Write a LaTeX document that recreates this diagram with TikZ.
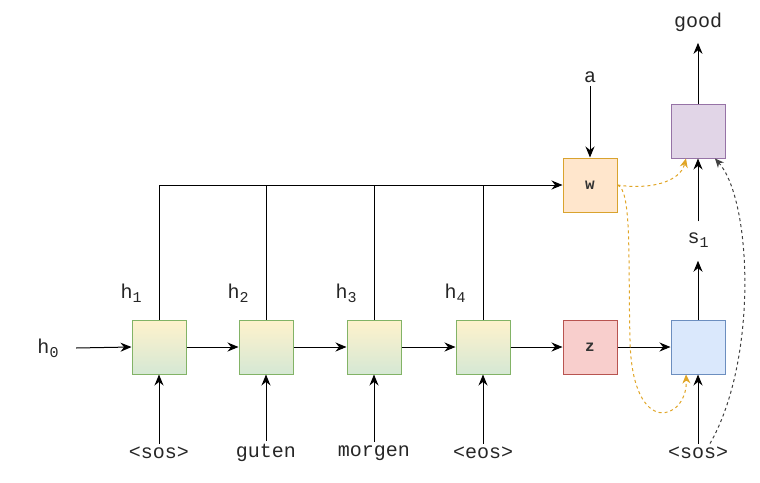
\documentclass[tikz,border=0pt]{standalone}
\usepackage{fontspec}
\setmonofont{Liberation Mono}
\usetikzlibrary{arrows.meta}
\definecolor{encline}{HTML}{82B366}
\definecolor{encyellow}{HTML}{FFF2CC}
\definecolor{encgreen}{HTML}{D5E8D4}
\definecolor{wfill}{HTML}{FFE6CC}
\definecolor{wline}{HTML}{D9A32E}
\definecolor{zfill}{HTML}{F8CECC}
\definecolor{zline}{HTML}{B85450}
\definecolor{decfill}{HTML}{DAE8FC}
\definecolor{decline}{HTML}{6C8EBF}
\definecolor{outfill}{HTML}{E1D5E7}
\definecolor{outline}{HTML}{9673A6}
\definecolor{attn}{HTML}{E0A526}
\NewDocumentCommand\Sub{m}{\raisebox{-0.35ex}{\fontsize{15}{15}\selectfont #1}}%

\begin{document}
\begin{tikzpicture}[x=1pt,y=-1pt,
  box/.style={draw,line width=1pt,minimum size=54pt,inner sep=0pt},
  enc/.style={box,draw=encline,top color=encyellow,bottom color=encgreen},
  lbl/.style={font=\ttfamily\fontsize{20}{24}\selectfont,text=black!85},
  boxlbl/.style={font=\ttfamily\bfseries\fontsize{16}{18}\selectfont,text=black!80},
  arr/.style={line width=1pt,-{Stealth[length=11pt,width=9pt]}},
  attnarr/.style={attn,dashed,line width=1pt,-{Stealth[length=9pt,width=8pt]}}]
\useasboundingbox (0,0) rectangle (760,482);
% encoder
\node[enc] (e1) at (159,347) {};
\node[enc] (e2) at (266,347) {};
\node[enc] (e3) at (374,347) {};
\node[enc] (e4) at (483,347) {};
\node[box,draw=zline,fill=zfill,boxlbl] (z) at (590,347) {z};
\node[box,draw=wline,fill=wfill,boxlbl] (w) at (590,185) {w};
% decoder
\node[box,draw=decline,fill=decfill] (d1) at (698,347) {};
\node[box,draw=outline,fill=outfill] (o1) at (698,131) {};
\node[lbl] (h0) at (48,348) {h\Sub0};
\node[lbl] (h1) at (131,293) {h\Sub1};
\node[lbl] (h2) at (238,293) {h\Sub2};
\node[lbl] (h3) at (346,293) {h\Sub3};
\node[lbl] (h4) at (455,293) {h\Sub4};
\node[lbl] (s1) at (698,240) {s\Sub1};
\node[lbl] (a) at (590,77) {a};
\node[lbl] (good) at (698,22) {good};
\node[lbl] (x1) at (159,453) {<sos>};
\node[lbl] (x2) at (266,453) {guten};
\node[lbl] (x3) at (374,453) {morgen};
\node[lbl] (x4) at (483,453) {<eos>};
\node[lbl] (y0) at (698,453) {<sos>};
% recurrence
\draw[arr] ([xshift=14pt]h0.east) -- (e1.west);
\draw[arr] (e1) -- (e2);
\draw[arr] (e2) -- (e3);
\draw[arr] (e3) -- (e4);
\draw[arr] (e4) -- (z);
\draw[arr] (z) -- (d1);
\foreach \i in {1,...,4}
  \draw[arr] (x\i.north) -- (e\i.south);
\draw[arr] (y0.north) -- (d1.south);
% hidden states to w
\draw[arr] (e1.north) |- (w.west);
\foreach \i in {2,3,4}
  \draw[line width=1pt] (e\i.north) -- (e\i.north |- w.west);
\draw[arr] (a.south) -- (w.north);
\draw[arr,shorten >=10pt] (d1.north) -- (s1.south);
\draw[arr,shorten <=8pt] (s1.north) -- (o1.south);
\draw[arr,shorten >=8pt] (o1.north) -- (good.south);
% attention
\draw[attnarr] (w.east) .. controls (650,190) and (680,182) .. ([xshift=-12pt]o1.south);
\draw[attnarr] (w.east) .. controls (632,190) and (628,260) .. (630,340)
  .. controls (632,440) and (688,420) .. ([xshift=-12pt]d1.south);
\draw[black!75,dashed,line width=1pt,-{Stealth[length=9pt,width=8pt]}]
  ([xshift=12pt]y0.north) .. controls (758,360) and (752,200) .. ([xshift=17pt]o1.south);
\end{tikzpicture}
\end{document}
